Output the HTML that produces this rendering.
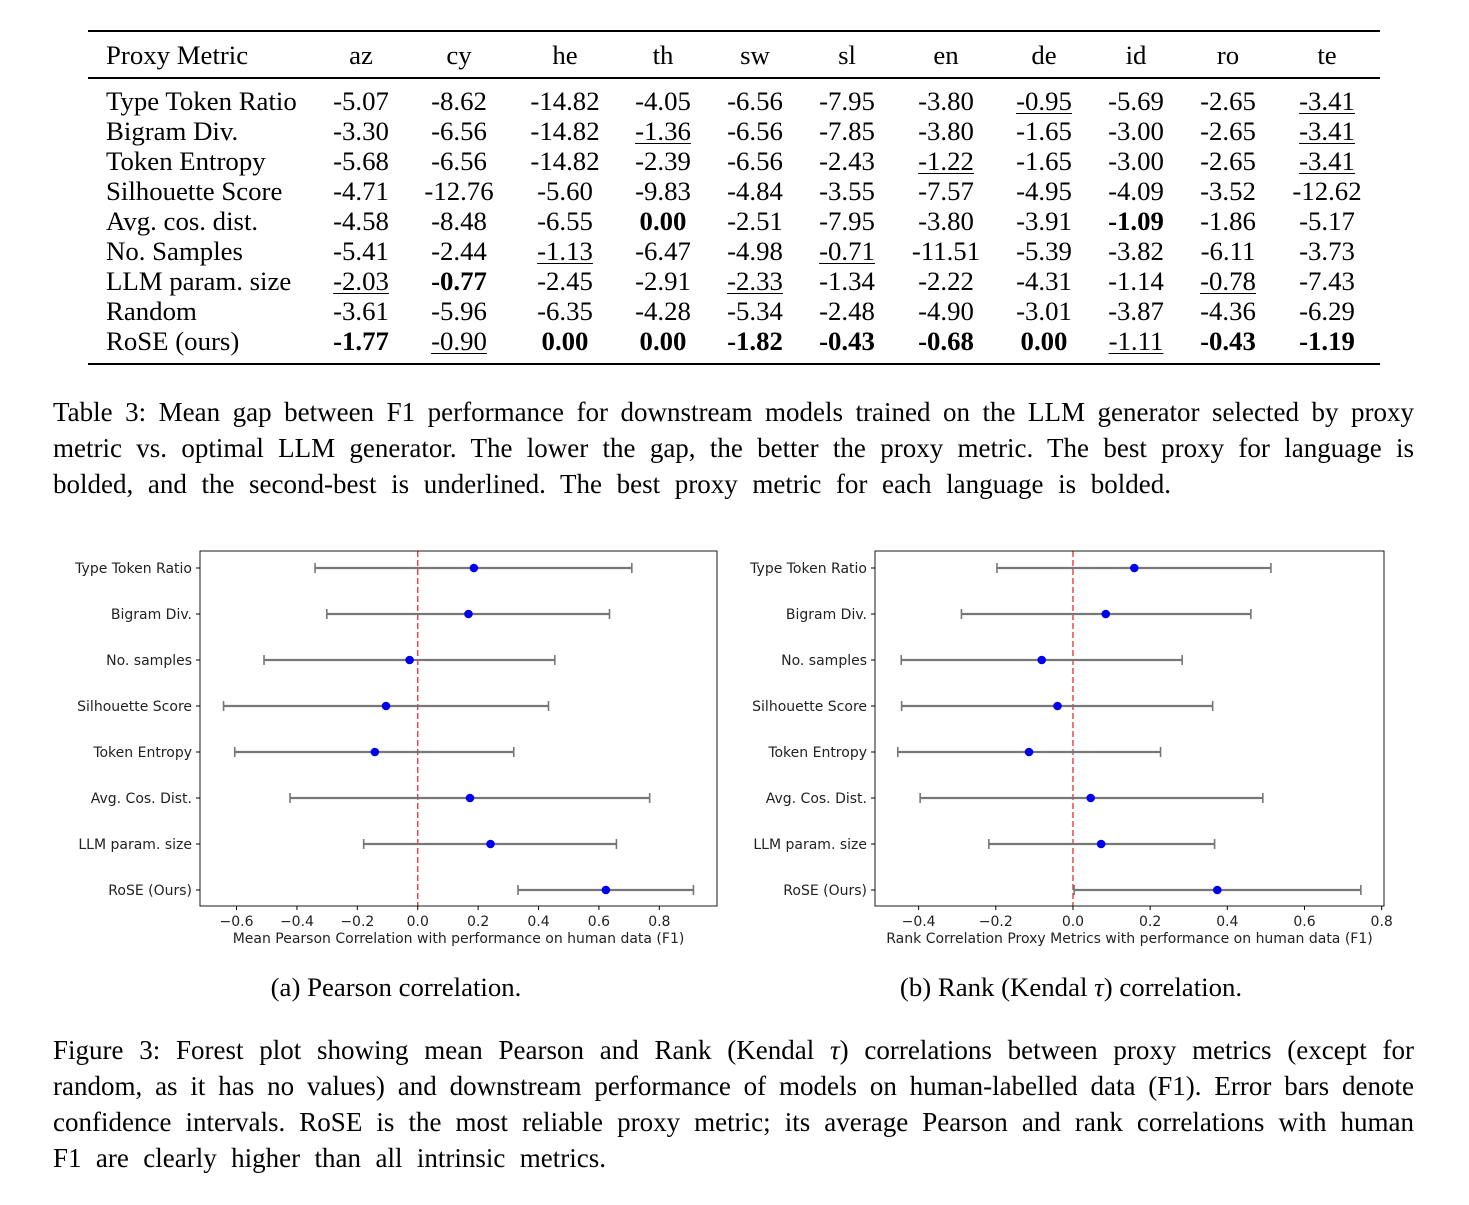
<!DOCTYPE html>
<html><head><meta charset="utf-8"><style>
body{margin:0;width:1469px;height:1205px;background:#fff;position:relative;overflow:hidden;font-family:"Liberation Serif",serif;color:#000}
.t{position:absolute;font-size:26.8px;line-height:26px;white-space:nowrap}
.c{transform:translateX(-50%)}
.u{text-decoration:underline;text-underline-offset:3px;text-decoration-thickness:1px}
.b{font-weight:bold}
.rule{position:absolute;left:88px;width:1292px;background:#000}
.cap{position:absolute;left:53px;width:1361px;font-size:27px;line-height:36px;text-align:justify;text-align-last:justify;white-space:nowrap}
svg text{font-family:"DejaVu Sans",sans-serif;font-size:14px;fill:#222}
</style></head><body>
<div class="rule" style="top:30px;height:2px"></div>
<div class="rule" style="top:77px;height:1.5px"></div>
<div class="rule" style="top:363px;height:2px"></div>
<div id="tbl"></div>
<div class="cap" style="top:394px">Table 3: Mean gap between F1 performance for downstream models trained on the LLM generator selected by proxy</div>
<div class="cap" style="top:430px">metric vs. optimal LLM generator. The lower the gap, the better the proxy metric. The best proxy for language is</div>
<div class="cap" style="top:466px;width:1118px">bolded, and the second-best is underlined. The best proxy metric for each language is bolded.</div>
<svg id="chartA" style="position:absolute;left:0;top:530px" width="735" height="430"></svg>
<svg id="chartB" style="position:absolute;left:735px;top:530px" width="734" height="430"></svg>
<div class="t c" style="left:396px;top:974px">(a) Pearson correlation.</div>
<div class="t c" style="left:1071px;top:974px">(b) Rank (Kendal <i>τ</i>) correlation.</div>
<div class="cap" style="top:1032px">Figure 3: Forest plot showing mean Pearson and Rank (Kendal <i>τ</i>) correlations between proxy metrics (except for</div>
<div class="cap" style="top:1068px">random, as it has no values) and downstream performance of models on human-labelled data (F1). Error bars denote</div>
<div class="cap" style="top:1104px">confidence intervals. RoSE is the most reliable proxy metric; its average Pearson and rank correlations with human</div>
<div class="cap" style="top:1140px;width:553px">F1 are clearly higher than all intrinsic metrics.</div>
<script>
const langs=["az","cy","he","th","sw","sl","en","de","id","ro","te"];
const rowNames=["Type Token Ratio","Bigram Div.","Token Entropy","Silhouette Score","Avg. cos. dist.","No. Samples","LLM param. size","Random","RoSE (ours)"];
const tableVals=[
["-5.07","-8.62","-14.82","-4.05","-6.56","-7.95","-3.80","_-0.95","-5.69","-2.65","_-3.41"],
["-3.30","-6.56","-14.82","_-1.36","-6.56","-7.85","-3.80","-1.65","-3.00","-2.65","_-3.41"],
["-5.68","-6.56","-14.82","-2.39","-6.56","-2.43","_-1.22","-1.65","-3.00","-2.65","_-3.41"],
["-4.71","-12.76","-5.60","-9.83","-4.84","-3.55","-7.57","-4.95","-4.09","-3.52","-12.62"],
["-4.58","-8.48","-6.55","*0.00","-2.51","-7.95","-3.80","-3.91","*-1.09","-1.86","-5.17"],
["-5.41","-2.44","_-1.13","-6.47","-4.98","_-0.71","-11.51","-5.39","-3.82","-6.11","-3.73"],
["_-2.03","*-0.77","-2.45","-2.91","_-2.33","-1.34","-2.22","-4.31","-1.14","_-0.78","-7.43"],
["-3.61","-5.96","-6.35","-4.28","-5.34","-2.48","-4.90","-3.01","-3.87","-4.36","-6.29"],
["*-1.77","_-0.90","*0.00","*0.00","*-1.82","*-0.43","*-0.68","*0.00","_-1.11","*-0.43","*-1.19"]];
const colX=[361,459,565,663,755,847,946,1044,1136,1228,1327];
const tb=document.getElementById('tbl');
function mk(txt,l,t,cls,name){const d=document.createElement('div');d.className='t '+cls;d.style.left=l+'px';d.style.top=t+'px';d.textContent=txt;


tb.appendChild(d);}
mk("Proxy Metric",106,42,'','header-proxy-metric');
langs.forEach((l,i)=>mk(l,colX[i],42,'c','header-'+l));
rowNames.forEach((r,ri)=>{const y=88+ri*30;mk(r,106,y,'','row-label');
tableVals[ri].forEach((v,ci)=>{let cls='c';if(v[0]=='_'){cls+=' u';v=v.slice(1);}else if(v[0]=='*'){cls+=' b';v=v.slice(1);}mk(v,colX[ci],y,cls,'cell-'+langs[ci]);});});

const metrics=["Type Token Ratio","Bigram Div.","No. samples","Silhouette Score","Token Entropy","Avg. Cos. Dist.","LLM param. size","RoSE (Ours)"];
const pearsonMean=[0.186,0.168,-0.027,-0.105,-0.142,0.173,0.241,0.623];
const pearsonLow=[-0.340,-0.301,-0.509,-0.643,-0.606,-0.423,-0.179,0.332];
const pearsonHigh=[0.709,0.635,0.454,0.433,0.318,0.768,0.658,0.913];
const pearsonTicks=[-0.6,-0.4,-0.2,0.0,0.2,0.4,0.6,0.8];
const rankMean=[0.159,0.085,-0.081,-0.040,-0.114,0.046,0.073,0.374];
const rankLow=[-0.197,-0.289,-0.445,-0.444,-0.454,-0.396,-0.218,0.003];
const rankHigh=[0.513,0.461,0.283,0.362,0.227,0.492,0.367,0.746];
const rankTicks=[-0.4,-0.2,0.0,0.2,0.4,0.6,0.8];
const NS='http://www.w3.org/2000/svg';
function el(svg,tag,attrs){const e=document.createElementNS(NS,tag);for(const k in attrs)e.setAttribute(k,attrs[k]);svg.appendChild(e);return e;}
function draw(id,left,right,dmin,dmax,mean,low,high,ticks,xlabel){
 const svg=document.getElementById(id);const top=21,bot=376;
 const x=v=>left+(v-dmin)/(dmax-dmin)*(right-left);
 const y=i=>top+17+i*46;
 let e=el(svg,'line',{x1:x(0),x2:x(0),y1:top,y2:bot,stroke:'#e8403c','stroke-width':1.4,'stroke-dasharray':'6,3'});
 
 
 metrics.forEach((m,i)=>{
  const yy=y(i);
  let l=el(svg,'line',{x1:x(low[i]),x2:x(high[i]),y1:yy,y2:yy,stroke:'#777','stroke-width':2.2});
  
  
  [low[i],high[i]].forEach(v=>{let c=el(svg,'line',{x1:x(v),x2:x(v),y1:yy-5,y2:yy+5,stroke:'#777','stroke-width':1.6});
   
   });
  let d=el(svg,'circle',{cx:x(mean[i]),cy:yy,r:4.3,fill:'#0000ee'});
  
  
  el(svg,'line',{x1:left-4,x2:left,y1:yy,y2:yy,stroke:'#000'});
  let t=el(svg,'text',{x:left-8,y:yy+5,'text-anchor':'end'});t.textContent=m;
  
  
 });
 ticks.forEach(v=>{el(svg,'line',{x1:x(v),x2:x(v),y1:bot,y2:bot+4,stroke:'#000'});
  let t=el(svg,'text',{x:x(v),y:bot+20,'text-anchor':'middle'});t.textContent=(v<0?'\u2212':'')+Math.abs(v).toFixed(1);
  
  });
 let f=el(svg,'rect',{x:left,y:top,width:right-left,height:bot-top,fill:'none',stroke:'#000','stroke-width':0.9});
 
 
 let xl=el(svg,'text',{x:(left+right)/2,y:bot+37,'text-anchor':'middle'});xl.textContent=xlabel;
 
 
}
draw('chartA',200,717,-0.721,0.991,pearsonMean,pearsonLow,pearsonHigh,pearsonTicks,'Mean Pearson Correlation with performance on human data (F1)');
draw('chartB',140,649,-0.513,0.806,rankMean,rankLow,rankHigh,rankTicks,'Rank Correlation Proxy Metrics with performance on human data (F1)');
</script>
</body></html>
